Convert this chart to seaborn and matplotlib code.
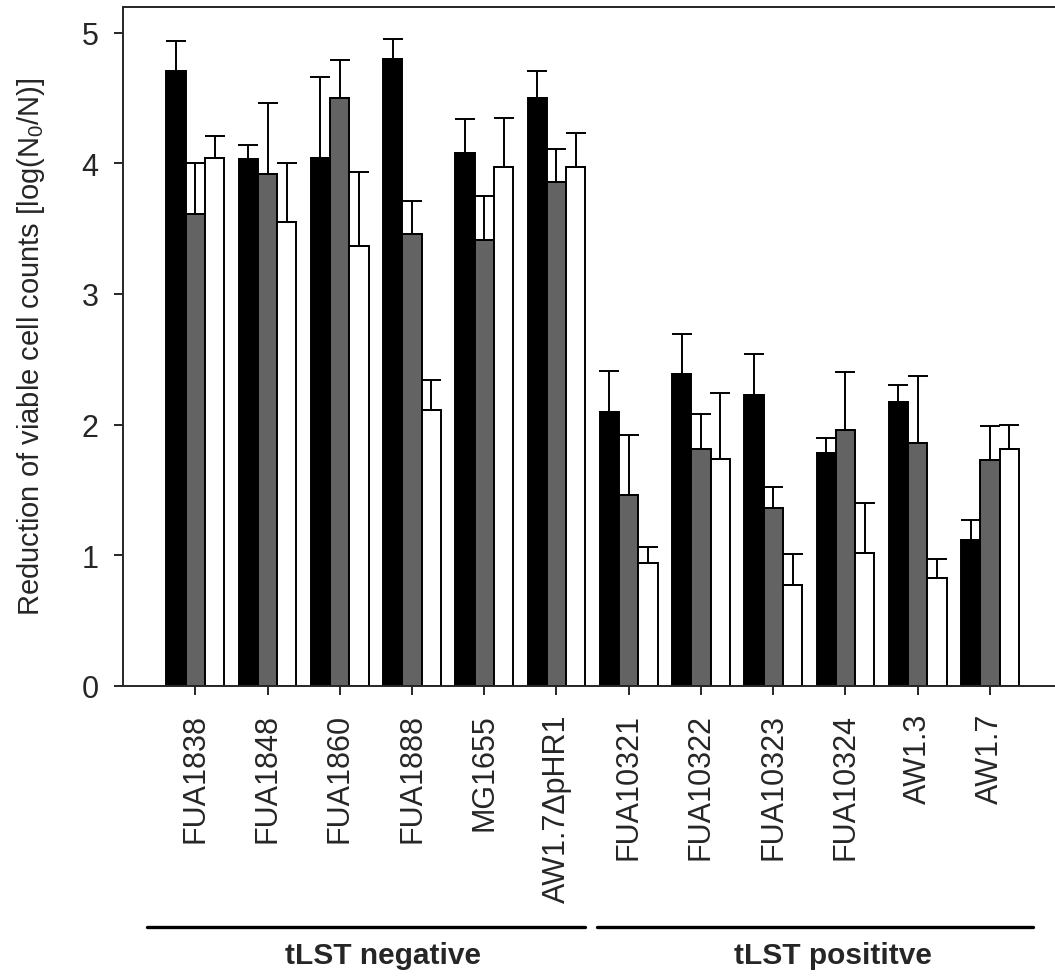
import numpy as np
import pandas as pd
import seaborn as sns
import matplotlib.pyplot as plt
from matplotlib.lines import Line2D

# strains on the x axis
strains = ['FUA1838', 'FUA1848', 'FUA1860', 'FUA1888', 'MG1655', 'AW1.7\u0394pHR1',
           'FUA10321', 'FUA10322', 'FUA10323', 'FUA10324', 'AW1.3', 'AW1.7']
series = ['series 1', 'series 2', 'series 3']

# bar heights (log reduction)
black_vals = [4.71, 4.03, 4.04, 4.80, 4.08, 4.50, 2.10, 2.39, 2.23, 1.78, 2.17, 1.12]
gray_vals = [3.61, 3.92, 4.50, 3.46, 3.41, 3.86, 1.46, 1.81, 1.36, 1.96, 1.86, 1.73]
white_vals = [4.04, 3.55, 3.37, 2.11, 3.97, 3.97, 0.94, 1.74, 0.77, 1.02, 0.83, 1.81]

# upper error bars (standard deviation)
black_err = [0.23, 0.11, 0.62, 0.15, 0.26, 0.21, 0.31, 0.30, 0.31, 0.12, 0.13, 0.15]
gray_err = [0.39, 0.54, 0.29, 0.25, 0.34, 0.25, 0.46, 0.27, 0.16, 0.44, 0.51, 0.26]
white_err = [0.17, 0.45, 0.56, 0.23, 0.38, 0.26, 0.12, 0.50, 0.24, 0.38, 0.14, 0.19]

groups = ['tLST negative', 'tLST posititve']

df = pd.DataFrame({
    'strain': strains * 3,
    'series': np.repeat(series, len(strains)),
    'value': black_vals + gray_vals + white_vals,
})
errs = [black_err, gray_err, white_err]

sns.set_style('ticks')
plt.rcParams['font.family'] = ['Liberation Sans', 'DejaVu Sans']
plt.rcParams['mathtext.fontset'] = 'custom'
plt.rcParams['mathtext.rm'] = 'Liberation Sans'

fig = plt.figure(figsize=(10.55, 9.79), dpi=100)
ax = fig.add_axes([0.1166, 0.2983, 0.8834, 0.694])

sns.barplot(data=df, x='strain', y='value', hue='series', hue_order=series,
            palette=['#000000', '#636363', '#ffffff'], edgecolor='black',
            linewidth=1.4, width=0.8, legend=False, ax=ax)

# error bars only upwards
for cont, err in zip(ax.containers, errs):
    xs = [b.get_x() + b.get_width() / 2 for b in cont]
    ys = [b.get_height() for b in cont]
    ax.errorbar(xs, ys, yerr=[np.zeros(len(err)), err], fmt='none',
                ecolor='black', elinewidth=1.4, capsize=7, capthick=1.4, zorder=1)

ax.set_xlim(-1.0, 11.9)
ax.set_ylim(0, 5.2)
ax.set_yticks([0, 1, 2, 3, 4, 5])
ax.set_xlabel('')
ax.set_ylabel(r'Reduction of viable cell counts [log(N$\mathregular{_0}$/N)]', fontsize=21)
ax.yaxis.set_label_coords(-0.082, 0.5)
ax.tick_params(axis='x', labelsize=22, rotation=90, length=6.5, width=1.4, pad=13)
ax.tick_params(axis='y', labelsize=22, length=6.5, width=1.4, pad=11)

for s in ['left', 'bottom', 'top']:
    ax.spines[s].set_linewidth(1.4)
ax.spines['right'].set_visible(False)

# group brackets below the labels
W, H = 1055, 979
for (x0, x1), name, xc in zip([(147, 585), (597, 1033)], groups, [383, 833]):
    fig.add_artist(Line2D([x0 / W, x1 / W], [1 - 928 / H, 1 - 928 / H],
                          color='black', linewidth=2.4))
    fig.text(xc / W, 1 - 956 / H, name, ha='center', va='center',
             fontsize=21.5, fontweight='bold')

fig.savefig('out.png', dpi=100)
